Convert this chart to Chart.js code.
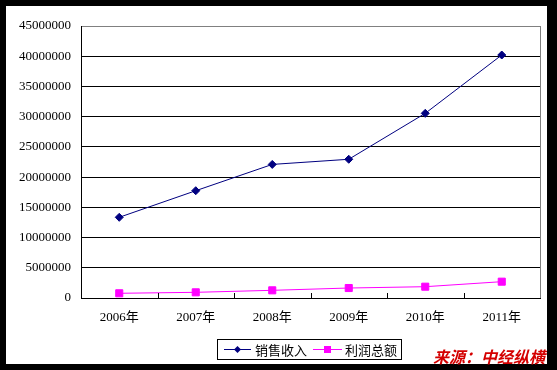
<!DOCTYPE html>
<html>
<head>
<meta charset="utf-8">
<script src="https://cdn.jsdelivr.net/npm/chart.js@4/dist/chart.umd.min.js"></script>
<style>
  html, body { margin: 0; padding: 0; background: #000; }
  canvas { display: block; }
</style>
</head>
<body>
<canvas id="chart" width="557" height="370"></canvas>
<script>
const years = ['2006年', '2007年', '2008年', '2009年', '2010年', '2011年'];
const salesLabel = '销售收入';
const profitLabel = '利润总额';
const sales = [13350000, 17750000, 22100000, 22950000, 30550000, 40200000];
const profit = [780000, 940000, 1270000, 1650000, 1870000, 2700000];
const sourceText = '来源：中经纵横';

const tickFont = { family: '"Liberation Serif", "Noto Sans CJK SC", serif', size: 13 };
const cjkFont = '"Noto Sans CJK SC", sans-serif';

// frame, legend box, inside tick marks and source label
const decorPlugin = {
    id: 'decor',
    beforeDraw(chart) {
        const ctx = chart.ctx;
        ctx.save();
        ctx.fillStyle = '#000';
        ctx.fillRect(0, 0, 557, 370);
        ctx.fillStyle = '#fff';
        ctx.fillRect(6, 6, 541, 358);
        ctx.restore();
    },
    afterDraw(chart) {
        const ctx = chart.ctx;
        const area = chart.chartArea;
        const x = chart.scales.x;
        ctx.save();

        // right plot border (grey)
        ctx.strokeStyle = '#808080';
        ctx.lineWidth = 1;
        ctx.beginPath();
        ctx.moveTo(Math.round(area.right) + 0.5, area.top);
        ctx.lineTo(Math.round(area.right) + 0.5, area.bottom);
        ctx.stroke();

        // category tick marks, pointing inside
        ctx.strokeStyle = '#000';
        for (let i = 0; i < years.length - 1; i++) {
            const px = Math.round((x.getPixelForValue(i) + x.getPixelForValue(i + 1)) / 2) + 0.5;
            ctx.beginPath();
            ctx.moveTo(px, area.bottom);
            ctx.lineTo(px, area.bottom - 5);
            ctx.stroke();
        }

        // legend box
        ctx.strokeStyle = '#000';
        ctx.strokeRect(217.5, 339.5, 184, 20);
        ctx.font = '13px ' + cjkFont;
        ctx.textBaseline = 'middle';
        ctx.fillStyle = '#000';

        ctx.strokeStyle = '#000080';
        ctx.beginPath();
        ctx.moveTo(224, 349.5);
        ctx.lineTo(251, 349.5);
        ctx.stroke();
        ctx.fillStyle = '#000080';
        ctx.beginPath();
        ctx.moveTo(237.5, 346);
        ctx.lineTo(241, 349.5);
        ctx.lineTo(237.5, 353);
        ctx.lineTo(234, 349.5);
        ctx.closePath();
        ctx.fill();
        ctx.fillStyle = '#000';
        ctx.fillText(salesLabel, 255, 350);

        ctx.strokeStyle = '#ff00ff';
        ctx.beginPath();
        ctx.moveTo(313, 349.5);
        ctx.lineTo(342, 349.5);
        ctx.stroke();
        ctx.fillStyle = '#ff00ff';
        ctx.fillRect(324, 346, 7, 7);
        ctx.fillStyle = '#000';
        ctx.fillText(profitLabel, 345, 350);

        // source label
        ctx.font = 'italic bold 16px ' + cjkFont;
        ctx.textBaseline = 'alphabetic';
        ctx.fillStyle = '#d40000';
        ctx.fillText(sourceText, 433, 363);

        ctx.restore();
    }
};

new Chart(document.getElementById('chart'), {
    type: 'line',
    data: {
        labels: years,
        datasets: [{
            label: salesLabel,
            data: sales,
            borderColor: '#000080',
            backgroundColor: '#000080',
            borderWidth: 1,
            pointStyle: 'rectRot',
            pointRadius: 4,
            tension: 0,
            fill: false
        }, {
            label: profitLabel,
            data: profit,
            borderColor: '#ff00ff',
            backgroundColor: '#ff00ff',
            borderWidth: 1,
            pointStyle: 'rect',
            pointRadius: 5,
            tension: 0,
            fill: false
        }]
    },
    options: {
        responsive: false,
        animation: false,
        layout: { padding: { left: 0, top: 26, right: 17, bottom: 0 } },
        plugins: {
            legend: { display: false },
            tooltip: { enabled: false }
        },
        scales: {
            x: {
                offset: true,
                grid: { display: true, drawOnChartArea: false, drawTicks: false, offset: true },
                border: { color: '#000', width: 1 },
                ticks: { color: '#000', font: tickFont, padding: 12, maxRotation: 0 },
                afterFit(scale) { scale.height = 72; }
            },
            y: {
                min: 0,
                max: 45000000,
                grid: {
                    drawTicks: false,
                    color: ctx => ctx.tick && ctx.tick.value === 45000000 ? '#808080' : '#000',
                    lineWidth: 1
                },
                border: { color: '#000', width: 1 },
                ticks: {
                    stepSize: 5000000,
                    color: '#000',
                    font: tickFont,
                    padding: 10,
                    callback: value => String(value)
                },
                afterFit(scale) { scale.width = 81; }
            }
        }
    },
    plugins: [decorPlugin]
});
</script>
</body>
</html>
